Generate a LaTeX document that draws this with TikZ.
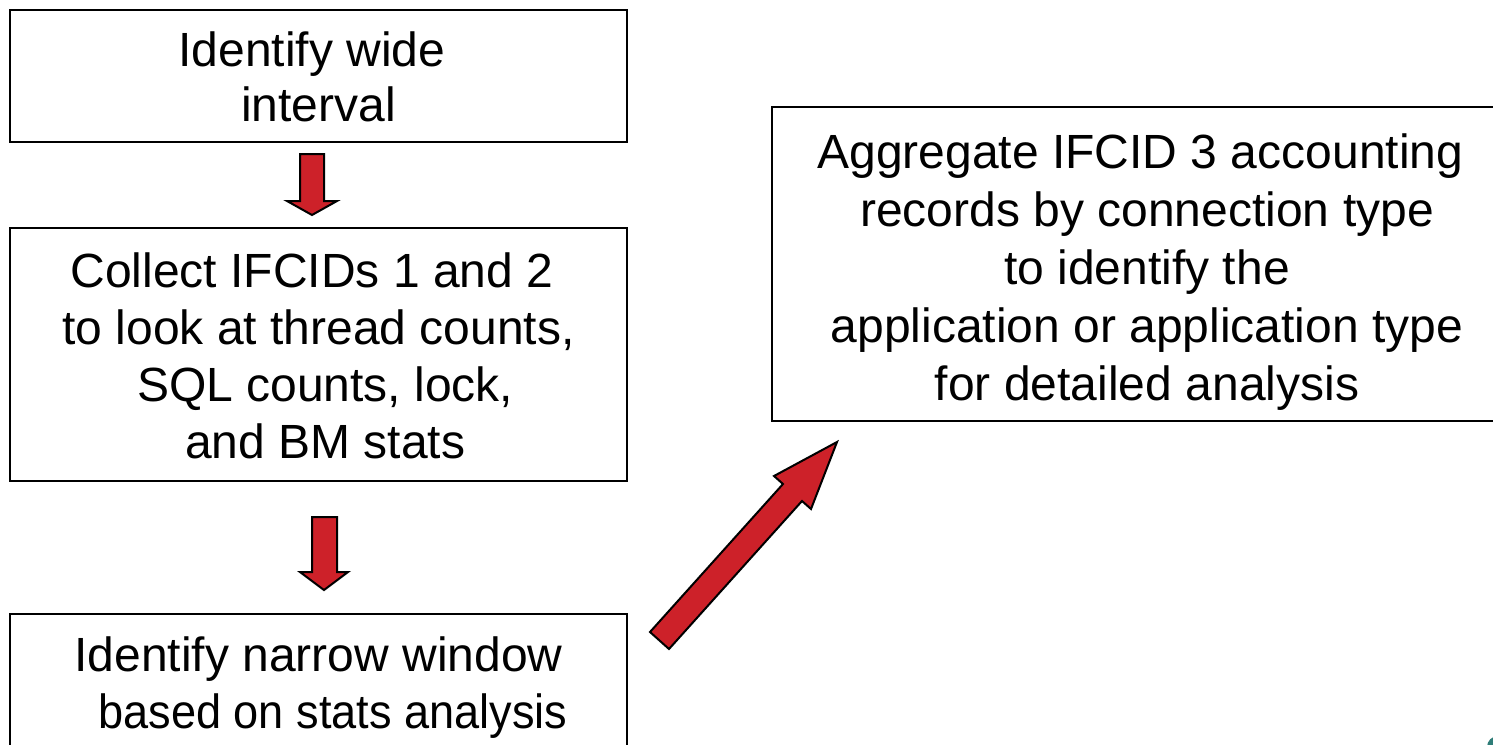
\documentclass[tikz,border=0pt]{standalone}
\usepackage{fontspec}
\setmainfont{Liberation Sans}
\definecolor{arrowred}{RGB}{205,33,41}
\definecolor{tealdot}{RGB}{47,125,120}
\begin{document}
\begin{tikzpicture}[x=1pt,y=-1pt,
  box/.style={draw=black, line width=2.5pt, rectangle, inner sep=0pt},
  txt/.style={align=center, inner sep=0pt, anchor=north, font=\fontsize{48}{57}\selectfont},
  blockarrow/.style={fill=arrowred, draw=black, line width=2pt, line join=miter}]
\useasboundingbox (0,0) rectangle (1493,744);
\clip (0,0) rectangle (1493,744);
% boxes
\node[box, minimum width=617pt, minimum height=132pt] (b1) at (318.5,76) {};
\node[box, minimum width=617pt, minimum height=253pt] (b2) at (318.5,354.5) {};
\node[box, minimum width=617pt, minimum height=186pt] (b3) at (318.5,707) {};
\node[box, minimum width=750pt, minimum height=314pt] (b4) at (1147,264) {};
% texts
\node[txt, font=\fontsize{48}{55}\selectfont] (t1) at (318.5,32)
  {Identify wide\hspace*{0.278em}\\interval};
\node[txt] (t2) at (318.5,253)
  {Collect IFCIDs 1 and 2\hspace*{0.278em}\\to look at thread counts,\\\hspace*{0.278em}SQL counts, lock,\\\hspace*{0.278em}and BM stats};
\node[txt] (t3) at (318.5,637)
  {Identify narrow window\\\hspace*{29pt}\scalebox{0.94}[1]{based on stats analysis}};
\node[txt, font=\fontsize{48}{58}\selectfont] (t4) at (1147,134)
  {Aggregate IFCID 3 accounting\hspace*{0.278em}\\records by connection type\\to identify the\\application or application type\\for detailed analysis};
% block arrows
\draw[blockarrow] (300,154) -- (324,154) -- (324,201) -- (337,201) -- (312,215) -- (287,201) -- (300,201) -- cycle;
\draw[blockarrow] (312,517) -- (337,517) -- (337,572) -- (348,572) -- (324,590) -- (300,572) -- (312,572) -- cycle;
\draw[blockarrow] (650,632) -- (783,484) -- (774,476) -- (837,442) -- (811,509) -- (802,501) -- (669,649) -- cycle;
% stray logo fragment
\fill[tealdot] (1498,747) circle (11);
\end{tikzpicture}
\end{document}
